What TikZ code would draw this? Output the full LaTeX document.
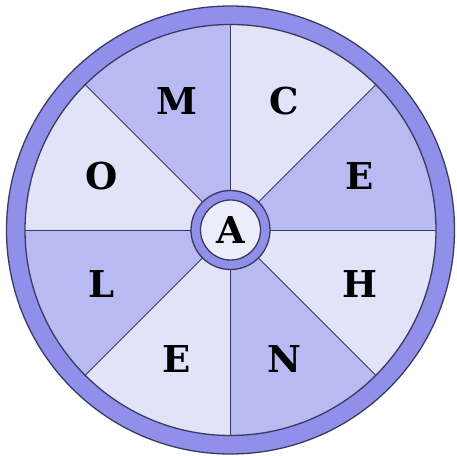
\documentclass[tikz,border=0pt]{standalone}
\usepackage{fontspec}
\newfontfamily\wheelfont{DejaVu Serif}
\definecolor{ringblue}{RGB}{144,144,234}
\definecolor{sectdark}{RGB}{186,186,242}
\definecolor{sectlight}{RGB}{226,226,249}
\definecolor{hubfill}{RGB}{236,236,251}
\definecolor{rim}{RGB}{58,58,96}
\tikzset{
  letter/.style={font=\wheelfont\fontsize{37}{37}\selectfont\bfseries, text=black, inner sep=0pt},
  spoke/.style={draw=rim, line width=0.9pt},
  rimline/.style={draw=rim, line width=1.3pt}
}
\begin{document}
\begin{tikzpicture}[x=1pt, y=1pt]
\useasboundingbox (0,0) rectangle (457,455);
\coordinate (ctr) at (230.5,225);

% Outer ring
\fill[ringblue, rimline] (ctr) circle (224);

% Sectors
\foreach \a/\col in {0/sectdark, 45/sectlight, 90/sectdark, 135/sectlight,
                     180/sectdark, 225/sectlight, 270/sectdark, 315/sectlight}
  \fill[\col] (ctr) -- ++(\a:205.5) arc[start angle=\a, end angle=\a+45, radius=205.5] -- cycle;

% Spokes
\foreach \a in {0,45,...,315}
  \draw[spoke] (ctr) -- ++(\a:205.5);
\draw[rimline] (ctr) circle (205.5);

% Hub
\draw[rimline, fill=ringblue] (ctr) circle (39.5);
\draw[rimline, fill=hubfill] (ctr) circle (30);
\node[letter] (hub) at (ctr) {A};

% Letters
\foreach \a/\t/\n in {22.5/E/east, 67.5/C/nne, 112.5/M/nnw, 157.5/O/west,
                      202.5/L/wsw, 247.5/E/ssw, 292.5/N/sse, 337.5/H/ese}
  \node[letter] (\n) at ([shift={(\a:140)}]ctr) {\t};

\end{tikzpicture}
\end{document}
